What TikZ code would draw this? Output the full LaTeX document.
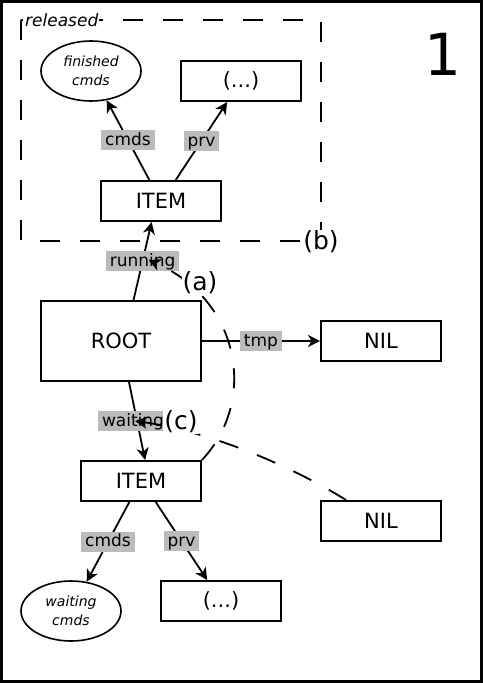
\documentclass[tikz,border=0pt]{standalone}
\usepackage{fontspec}
\setmainfont{DejaVu Sans}[ItalicFont={DejaVu Sans Oblique}]
\usetikzlibrary{shapes.geometric,arrows.meta,calc}
\definecolor{lblgray}{RGB}{187,187,187}
\begin{document}
\begin{tikzpicture}[x=1pt,y=-1pt,
  box/.style={draw,line width=2pt,minimum width=120pt,minimum height=40pt,inner sep=0pt,font=\fontsize{21}{25}\selectfont},
  ell/.style={draw,ellipse,line width=1.6pt,minimum width=100pt,minimum height=60pt,inner sep=0pt,align=center,font=\fontsize{14}{19}\selectfont\itshape},
  lbl/.style={fill=lblgray,inner xsep=4pt,inner ysep=1pt,text height=14pt,text depth=4pt,font=\fontsize{17}{20}\selectfont},
  arr/.style={line width=1.8pt,-{Stealth[length=12pt,width=12pt,inset=3.5pt]}},
  darr/.style={arr,dash pattern=on 20pt off 20pt},
  tag/.style={fill=white,inner sep=1pt,font=\fontsize{25}{28}\selectfont}]
\useasboundingbox (0,0) rectangle (483,683);
\draw[line width=2.5pt] (1.25,1.25) rectangle (481.5,681.5);

% released frame
\draw[line width=2pt,dash pattern=on 20pt off 20pt] (21,20) rectangle (321,241);
\node[anchor=west,fill=white,inner sep=1pt,font=\fontsize{17}{20}\selectfont\itshape] (rel) at (24,20) {released};

% nodes
\node[ell] (fin) at (91,71) {finished\\cmds};
\node[box] (dotsT) at (241,81) {(...)};
\node[box] (itemT) at (161,201) {ITEM};
\node[box,minimum width=160pt,minimum height=80pt] (rootN) at (121,341) {ROOT};
\node[box] (nilR) at (381,341) {NIL};
\node[box] (itemB) at (141,481) {ITEM};
\node[box] (nilB) at (381,521) {NIL};
\node[ell] (wcm) at (71,611) {waiting\\cmds};
\node[box] (dotsB) at (221,601) {(...)};

% edges
\draw[arr] (itemT.119) -- node[lbl] (lcmT) {cmds} (fin);
\draw[arr] (itemT.55) -- node[lbl] (lprvT) {prv} (dotsT);
\draw[arr] (rootN.73) -- node[lbl] (lrun) {running} (itemT.-114);
\draw[arr] (rootN.east) -- node[lbl] (ltmp) {tmp} (nilR.west);
\draw[arr] (rootN.-79) -- node[lbl,xshift=-4pt] (lwait) {waiting} (itemB.79);
\draw[arr] (itemB.-119) -- node[lbl] (lcmB) {cmds} (wcm);
\draw[arr] (itemB.-55) -- node[lbl] (lprvB) {prv} (dotsB);

% dashed moves
\draw[darr] (itemB.north east) .. controls (258,400) and (240,300) .. ($(lrun.center)+(6,-1)$);
\draw[darr] (nilB.149) .. controls (288,464) and (207,431) .. ($(lwait.center)+(2,0)$);

% tags
\node[tag] (ta) at (200,283) {(a)};
\node[tag] (tb) at (321,242) {(b)};
\node[tag] (tc) at (181,422) {(c)};
\node[font=\fontsize{58}{60}\selectfont] (num) at (443,54) {1};
\end{tikzpicture}
\end{document}
